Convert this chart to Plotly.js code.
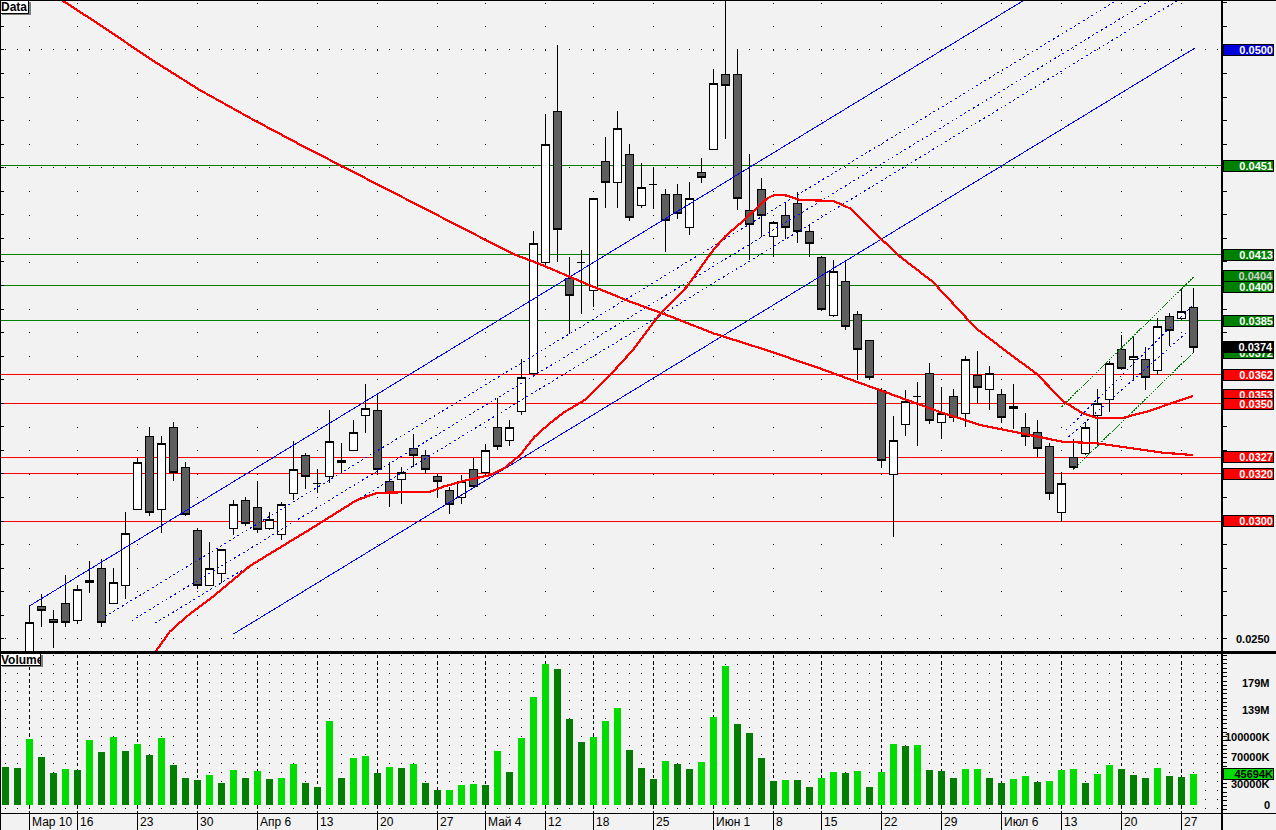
<!DOCTYPE html>
<html>
<head>
<meta charset="utf-8">
<script src="https://cdn.plot.ly/plotly-3.0.1.min.js"></script>
<style>
html,body{margin:0;padding:0;background:#f2f2f2;}
#chart{width:1276px;height:830px;}
#chart .main-svg path{shape-rendering:crispEdges;}
</style>
</head>
<body>
<div id="chart"></div>
<script>
// ---------------- DATA ----------------
const dates = [
 '2015-03-05','2015-03-06','2015-03-10','2015-03-11','2015-03-12','2015-03-13',
 '2015-03-16','2015-03-17','2015-03-18','2015-03-19','2015-03-20',
 '2015-03-23','2015-03-24','2015-03-25','2015-03-26','2015-03-27',
 '2015-03-30','2015-03-31','2015-04-01','2015-04-02','2015-04-03',
 '2015-04-06','2015-04-07','2015-04-08','2015-04-09','2015-04-10',
 '2015-04-13','2015-04-14','2015-04-15','2015-04-16','2015-04-17',
 '2015-04-20','2015-04-21','2015-04-22','2015-04-23','2015-04-24',
 '2015-04-27','2015-04-28','2015-04-29','2015-04-30',
 '2015-05-04','2015-05-05','2015-05-06','2015-05-07','2015-05-08',
 '2015-05-12','2015-05-13','2015-05-14','2015-05-15',
 '2015-05-18','2015-05-19','2015-05-20','2015-05-21','2015-05-22',
 '2015-05-25','2015-05-26','2015-05-27','2015-05-28','2015-05-29',
 '2015-06-01','2015-06-02','2015-06-03','2015-06-04','2015-06-05',
 '2015-06-08','2015-06-09','2015-06-10','2015-06-11',
 '2015-06-15','2015-06-16','2015-06-17','2015-06-18','2015-06-19',
 '2015-06-22','2015-06-23','2015-06-24','2015-06-25','2015-06-26',
 '2015-06-29','2015-06-30','2015-07-01','2015-07-02','2015-07-03',
 '2015-07-06','2015-07-07','2015-07-08','2015-07-09','2015-07-10',
 '2015-07-13','2015-07-14','2015-07-15','2015-07-16','2015-07-17',
 '2015-07-20','2015-07-21','2015-07-22','2015-07-23','2015-07-24',
 '2015-07-27','2015-07-28'
];

const open = [
 0.0238,0.0237,0.0240,0.02638,0.02580,0.02652,0.02579,0.02749,0.02800,0.02651,
 0.02727,0.03049,0.03359,0.03049,0.03398,0.03228,0.02960,0.02727,0.02778,0.02969,
 0.03088,0.03058,0.02969,0.02941,0.03118,0.03279,0.03160,0.03190,0.03259,0.03300,
 0.03449,0.03470,0.03169,0.03177,0.03308,0.03279,0.03190,0.03130,0.03101,0.03220,
 0.03207,0.03399,0.03340,0.03463,0.03627,0.04098,0.04740,0.04031,0.04098,0.03980,
 0.04527,0.04438,0.04557,0.04341,0.04430,0.04387,0.04387,0.04247,0.04481,0.04578,
 0.04897,0.04896,0.04318,0.04407,0.04208,0.04297,0.04349,0.04229,0.04118,0.03874,
 0.04016,0.03876,0.03766,0.03556,0.03197,0.03408,0.03527,0.03625,0.03417,0.03530,
 0.03457,0.03619,0.03559,0.03538,0.03487,0.03398,0.03377,0.03317,0.03037,0.03269,
 0.03287,0.03449,0.03517,0.03729,0.03687,0.03687,0.03640,0.03869,0.03861,0.03907
];
const high = [
 0.0241,0.0240,0.02639,0.02689,0.02623,0.02771,0.02729,0.02830,0.02837,0.02802,
 0.03038,0.03266,0.03399,0.03361,0.03420,0.03250,0.02970,0.02910,0.02880,0.03089,
 0.03102,0.03170,0.03037,0.03080,0.03340,0.03287,0.03221,0.03471,0.03331,0.03429,
 0.03582,0.03534,0.03249,0.03228,0.03369,0.03301,0.03198,0.03143,0.03194,0.03269,
 0.03326,0.03522,0.03430,0.03688,0.04231,0.04728,0.05021,0.04121,0.04151,0.04370,
 0.04631,0.04740,0.04600,0.04519,0.04498,0.04409,0.04430,0.04438,0.04540,0.04918,
 0.05250,0.05000,0.04558,0.04458,0.04275,0.04351,0.04398,0.04261,0.04124,0.04108,
 0.04108,0.03890,0.03766,0.03565,0.03448,0.03558,0.03589,0.03669,0.03567,0.03561,
 0.03700,0.03722,0.03657,0.03559,0.03580,0.03457,0.03428,0.03330,0.03208,0.03349,
 0.03420,0.03559,0.03678,0.03790,0.03784,0.03738,0.03861,0.03882,0.03988,0.03988
];
const low = [
 0.0234,0.0233,0.0238,0.02551,0.02461,0.02551,0.02561,0.02693,0.02551,0.02651,
 0.02669,0.03049,0.03022,0.02950,0.03171,0.03020,0.02712,0.02727,0.02735,0.02942,
 0.02980,0.02949,0.02962,0.02920,0.03090,0.03135,0.03120,0.03163,0.03203,0.03300,
 0.03372,0.03194,0.03061,0.03073,0.03230,0.03198,0.03099,0.03031,0.03073,0.03140,
 0.03200,0.03301,0.03320,0.03450,0.03620,0.04080,0.04101,0.03793,0.03880,0.03910,
 0.04330,0.04330,0.04273,0.04330,0.04324,0.04141,0.04281,0.04213,0.04434,0.04574,
 0.04621,0.04322,0.04108,0.04205,0.04123,0.04199,0.04180,0.04123,0.03890,0.03868,
 0.03811,0.03597,0.03600,0.03227,0.02932,0.03360,0.03318,0.03413,0.03348,0.03422,
 0.03400,0.03502,0.03473,0.03415,0.03392,0.03320,0.03270,0.03090,0.02994,0.03220,
 0.03279,0.03320,0.03462,0.03640,0.03593,0.03555,0.03619,0.03742,0.03852,0.03712
];
const close = [
 0.0236,0.0235,0.02570,0.02621,0.02570,0.02570,0.02710,0.02740,0.02570,0.02740,
 0.02948,0.03249,0.03037,0.03329,0.03207,0.03028,0.02727,0.02800,0.02880,0.03071,
 0.02990,0.02962,0.03007,0.03071,0.03220,0.03190,0.03160,0.03338,0.03249,0.03377,
 0.03479,0.03219,0.03118,0.03207,0.03279,0.03220,0.03169,0.03071,0.03169,0.03147,
 0.03300,0.03318,0.03395,0.03610,0.04179,0.04600,0.04239,0.03958,0.04098,0.04370,
 0.04438,0.04668,0.04290,0.04417,0.04430,0.04277,0.04307,0.04370,0.04459,0.04859,
 0.04850,0.04369,0.04259,0.04297,0.04266,0.04246,0.04229,0.04177,0.03897,0.04059,
 0.03824,0.03727,0.03608,0.03255,0.03344,0.03507,0.03527,0.03426,0.03455,0.03440,
 0.03687,0.03568,0.03627,0.03440,0.03479,0.03360,0.03309,0.03118,0.03160,0.03228,
 0.03398,0.03498,0.03670,0.03648,0.03700,0.03610,0.03827,0.03810,0.03890,0.03738
];
// volume, millions
const volumeM = [
 55.6,54.1,96.5,70.2,46.8,52.6,51.2,95.0,77.5,99.4,
 78.9,89.2,73.1,97.9,58.5,39.5,36.5,43.9,32.2,51.2,
 39.5,49.7,38.0,39.5,59.9,32.2,26.3,122.8,39.5,68.7,
 71.6,46.8,55.6,54.1,59.9,32.2,21.9,22.3,29.2,30.7,
 29.2,78.9,48.2,97.9,157.9,206.1,198.8,125.7,92.1,99.4,
 122.8,141.8,80.4,54.1,38.0,64.3,59.9,52.6,62.9,128.7,
 203.2,118.4,105.3,68.7,35.1,37.0,36.5,26.3,39.5,48.2,
 46.8,49.7,26.3,48.2,89.2,86.3,87.7,51.2,49.7,39.5,
 52.6,52.9,39.5,32.2,38.0,42.4,33.6,35.1,51.2,52.6,
 32.2,45.3,58.5,52.6,43.9,39.5,54.1,42.4,40.9,45.694
];

// moving averages (bar position, price)
const maLongX = [2.1,4.7,7.9,12.2,16.2,20.4,24.6,28.7,32.9,36.2,39.6,42.3,44.4,48.7,52.1,55.1,59.0,63.4,67.6,70.4,72.9,75.1,77.9,81.2,84.6,88.1,91.0,93.7,96.5,99.0];
const maLongY = [0.05318,0.05212,0.05106,0.04958,0.0483,0.04711,0.04597,0.0449,0.0438,0.04291,0.04203,0.04134,0.04094,0.04001,0.03931,0.03875,0.03797,0.03726,0.03653,0.03602,0.03557,0.03514,0.03463,0.03408,0.03372,0.03337,0.03330,0.03309,0.03290,0.03280];
const maShortX = [11.5,12.5,13.7,15.1,17.3,20.4,25.3,27.6,29.3,31.0,35.4,36.5,38.5,40.4,41.6,42.9,44.1,45.4,46.6,48.3,50.4,52.3,54.6,56.8,59.0,60.0,61.5,63.5,64.1,65.1,66.2,69.0,70.4,72.9,74.6,77.3,80.9,84.0,85.9,88.2,89.8,90.9,93.2,95.1,97.1,99.0];
const maShortY = [0.0240,0.02444,0.02530,0.02594,0.02679,0.02810,0.02962,0.03033,0.03089,0.03120,0.03124,0.03146,0.03174,0.03195,0.03225,0.0328,0.03357,0.03416,0.03463,0.03514,0.03620,0.03726,0.03882,0.03995,0.04151,0.04209,0.04275,0.04370,0.04385,0.04382,0.04363,0.04359,0.04327,0.04202,0.04121,0.04015,0.03818,0.03698,0.03627,0.03507,0.03457,0.03439,0.03439,0.03464,0.03500,0.03531];

// trend channels: [x0, x1], [y0, y1]
const blueUpper = {x:[2, 101], y:[0.02639, 0.05711]};
const blueLower = {x:[19, 99.1], y:[0.02520, 0.05007]};
const blueMid = [
  {x:[8.3, 101], y:[0.02594, 0.05470]},
  {x:[10.53, 101], y:[0.02577, 0.05384]},
  {x:[12.47, 101], y:[0.02566, 0.05313]}
];
const greenUpper = {x:[88.03, 99], y:[0.03485, 0.04035]};
const greenLower = {x:[89, 99], y:[0.03219, 0.03715]};
const greenMid = [
  {x:[88.4, 98.9], y:[0.03386, 0.03913]},
  {x:[88.6, 98.5], y:[0.03357, 0.03803]}
];

// horizontal levels
const levelsGreen = [0.0451, 0.0413, 0.0400, 0.0385];
const levelsRed = [0.0362, 0.0350, 0.0327, 0.0320, 0.0300];

// dotted price grid rows (the others lie under level lines)
const gridRows = [0.025, 0.045, 0.050];

// week tick labels
const weekDates = ['2015-03-10','2015-03-16','2015-03-23','2015-03-30','2015-04-06','2015-04-13','2015-04-20','2015-04-27','2015-05-04','2015-05-12','2015-05-18','2015-05-25','2015-06-01','2015-06-08','2015-06-15','2015-06-22','2015-06-29','2015-07-06','2015-07-13','2015-07-20','2015-07-27'];
const weekText = ['Мар 10','16','23','30','Апр 6','13','20','27','Май 4','12','18','25','Июн 1','8','15','22','29','Июл 6','13','20','27'];

// right-axis value labels
const volTickVals = [179e6, 139e6, 100e6, 70e6, 30e6, 0];
const volTickText = ['179M','139M','100000K','70000K','30000K','0'];
const lastVolumeText = '45694K';

// ---------------- BUILD ----------------
const idx = dates.map((d, i) => i);
const weekIdx = weekDates.map(d => dates.indexOf(d));
const volume = volumeM.map(v => v * 1e6);
const volColors = volume.map((v, i) => (i > 0 && v > volume[i - 1]) ? '#00dc00' : '#007f00');

const PLOT_W = 1222, PLOT_H = 813;
const py = px => (PLOT_H - px) / PLOT_H;   // paper y from pixel row
const pxX = px => px / PLOT_W;
const priceRange = [0.02444, 0.05212];
const volRange = [-11.7e6, 219.3e6];
const xRange = [-0.44, 101.39];

const traces = [];
// level lines (bottom layer, above grid)
function level(v, color) {
  return {type: 'scatter', mode: 'lines', x: [xRange[0], xRange[1]], y: [v, v], xaxis: 'x', yaxis: 'y',
    line: {color: color, width: 1}, hoverinfo: 'skip', showlegend: false};
}
levelsGreen.forEach(v => traces.push(level(v, '#008000')));
levelsRed.forEach(v => traces.push(level(v, '#ff0000')));
// candles (middle layer)
traces.push({
  type: 'candlestick', x: idx, open: open, high: high, low: low, close: close,
  xaxis: 'x', yaxis: 'y3',
  increasing: {line: {color: '#000000', width: 1}, fillcolor: '#ffffff'},
  decreasing: {line: {color: '#000000', width: 1}, fillcolor: '#5e5e5e'},
  whiskerwidth: 0, hoverinfo: 'skip', showlegend: false
});
// studies (top layer)
function line(o, color, dash, width) {
  return {type: 'scatter', mode: 'lines', x: o.x, y: o.y, xaxis: 'x', yaxis: 'y4',
    line: {color: color, width: width || 1, dash: dash || 'solid'}, hoverinfo: 'skip', showlegend: false};
}
traces.push(line(blueUpper, '#0000ff'));
traces.push(line(blueLower, '#0000ff'));
blueMid.forEach(m => traces.push(line(m, '#0000ff', '2px,3px')));
traces.push(line(greenUpper, '#008000', '2px,1px'));
traces.push(line(greenLower, '#008000', '2px,1px'));
greenMid.forEach(m => traces.push(line(m, '#0000ff', '2px,3px')));
traces.push(line({x: maLongX, y: maLongY}, '#ff0000', 'solid', 2.2));
traces.push(line({x: maShortX, y: maShortY}, '#ff0000', 'solid', 2.2));
// volume
traces.push({
  type: 'bar', x: idx, y: volume, xaxis: 'x2', yaxis: 'y2', width: 0.54,
  marker: {color: volColors, line: {width: 0}}, hoverinfo: 'skip', showlegend: false
});

const shapes = [];
// small level stubs on the price scale
levelsGreen.forEach(v => shapes.push({type: 'line', xref: 'paper', yref: 'y', x0: 1, x1: 1 + 4 / PLOT_W, y0: v, y1: v, line: {color: '#008000', width: 1}}));
levelsRed.forEach(v => shapes.push({type: 'line', xref: 'paper', yref: 'y', x0: 1, x1: 1 + 4 / PLOT_W, y0: v, y1: v, line: {color: '#ff0000', width: 1}}));
// frames
shapes.push({type: 'line', xref: 'paper', yref: 'paper', x0: 0, x1: 1276 / PLOT_W, y0: 1, y1: 1, line: {color: '#000', width: 2}});
shapes.push({type: 'line', xref: 'paper', yref: 'paper', x0: 0, x1: 1276 / PLOT_W, y0: py(652), y1: py(652), line: {color: '#000', width: 3}});
shapes.push({type: 'line', xref: 'paper', yref: 'paper', x0: 0, x1: 1276 / PLOT_W, y0: py(813.5), y1: py(813.5), line: {color: '#000', width: 1}});
shapes.push({type: 'line', xref: 'paper', yref: 'paper', x0: pxX(0.5), x1: pxX(0.5), y0: py(830), y1: 1, line: {color: '#000', width: 1}});
shapes.push({type: 'line', xref: 'paper', yref: 'paper', x0: 1, x1: 1, y0: py(830), y1: 1, line: {color: '#000', width: 1.5}});
// date separators
weekIdx.forEach(i => shapes.push({type: 'line', xref: 'x', yref: 'paper', x0: i, x1: i, y0: py(813), y1: py(830), line: {color: '#000', width: 1}}));
// label box shadows
shapes.push({type: 'rect', xref: 'paper', yref: 'paper', x0: pxX(2), x1: pxX(31), y0: py(15), y1: py(2), fillcolor: '#808080', line: {width: 0}});
shapes.push({type: 'rect', xref: 'paper', yref: 'paper', x0: pxX(2), x1: pxX(43), y0: py(667), y1: py(655), fillcolor: '#808080', line: {width: 0}});

const annotations = [];
const FONT = 'Liberation Sans, Arial, sans-serif';
weekIdx.forEach((i, k) => annotations.push({
  xref: 'x', yref: 'paper', x: i, y: py(822), xanchor: 'left', yanchor: 'middle', xshift: 1,
  text: weekText[k], showarrow: false, font: {family: FONT, size: 12, color: '#000'}
}));
function box(v, text, bg, fg, yref, yshift) {
  annotations.push({
    xref: 'paper', yref: yref || 'y', x: 1 + 1 / PLOT_W, y: v, xanchor: 'left', yanchor: 'middle', yshift: yshift || 0,
    text: '<b>' + text + '</b>', showarrow: false, width: 49, height: 10, align: 'right',
    bgcolor: bg, bordercolor: '#000', borderwidth: 1, borderpad: 0,
    font: {family: FONT, size: 11, color: fg}
  });
}
box(0.03715, '0.0372', '#008000', '#ffffff');
box(0.0374, '0.0374', '#000000', '#ffffff');
box(0.0353, '0.0353', '#ff0000', '#ffffff', 'y', 1);
box(0.0350, '0.0350', '#ff0000', '#ffffff', 'y', -1);
box(0.0404, '0.0404', '#008000', '#d0d0d0', 'y', 0);
box(0.0400, '0.0400', '#008000', '#ffffff', 'y', -1.5);
box(0.0413, '0.0413', '#008000', '#ffffff');
box(0.0385, '0.0385', '#008000', '#ffffff');
box(0.0451, '0.0451', '#008000', '#ffffff', 'y', -1);
box(0.0500, '0.0500', '#0000dd', '#ffffff');
box(0.0362, '0.0362', '#ff0000', '#ffffff');
box(0.0327, '0.0327', '#ff0000', '#ffffff');
box(0.0320, '0.0320', '#ff0000', '#ffffff');
box(0.0300, '0.0300', '#ff0000', '#ffffff');
annotations.push({xref: 'paper', yref: 'y', x: 1272 / PLOT_W, y: 0.0250, xanchor: 'right', yanchor: 'middle',
  text: '<b>0.0250</b>', showarrow: false, font: {family: FONT, size: 11, color: '#000'}});
volTickVals.forEach((v, k) => annotations.push({xref: 'paper', yref: 'y2', x: 1272 / PLOT_W, y: v, xanchor: 'right', yanchor: 'middle',
  text: '<b>' + volTickText[k] + '</b>', showarrow: false, font: {family: FONT, size: 11, color: '#000'}}));
box(volume[volume.length - 1], lastVolumeText, '#00dc00', '#000000', 'y2');
// panel captions
annotations.push({xref: 'paper', yref: 'paper', x: 0, y: 1, xanchor: 'left', yanchor: 'top', text: '<b>Data</b>', showarrow: false,
  bgcolor: '#ffffff', bordercolor: '#000', borderwidth: 1, borderpad: 0, width: 27, height: 12, align: 'left',
  font: {family: FONT, size: 12, color: '#000'}});
annotations.push({xref: 'paper', yref: 'paper', x: 0, y: py(653), xanchor: 'left', yanchor: 'top', text: '<b>Volume</b>', showarrow: false,
  bgcolor: '#ffffff', bordercolor: '#000', borderwidth: 1, borderpad: 0, width: 39, height: 11, align: 'left',
  font: {family: FONT, size: 12, color: '#000'}});
annotations.push({xref: 'paper', yref: 'paper', x: pxX(186), y: py(-4), xanchor: 'center', yanchor: 'middle', text: '0.052', showarrow: false,
  font: {family: FONT, size: 11, color: '#0000ff'}});

const layout = {
  width: 1276, height: 830,
  paper_bgcolor: '#f2f2f2', plot_bgcolor: '#f2f2f2',
  margin: {l: 0, r: 54, t: 0, b: 17, pad: 0},
  showlegend: false, dragmode: false, hovermode: false,
  boxgap: 0.33, boxgroupgap: 0,
  xaxis: {range: xRange, anchor: 'y', tickmode: 'array', tickvals: weekIdx, showticklabels: false, ticks: '',
    showgrid: true, gridcolor: '#000000', gridwidth: 1, griddash: '0px,2.6px,1px,19.95px',
    zeroline: false, showline: false, rangeslider: {visible: false}, fixedrange: true},
  xaxis2: {range: xRange, anchor: 'y2', tickmode: 'array', tickvals: weekIdx, showticklabels: false, ticks: '',
    showgrid: true, gridcolor: '#000000', gridwidth: 1, griddash: '3px,3px',
    minor: {dtick: 1, tick0: 0, showgrid: true, gridcolor: '#000000', gridwidth: 1, griddash: '1px,8px', ticks: ''},
    zeroline: false, showline: false, fixedrange: true},
  yaxis: {domain: [py(652), 1], range: priceRange, anchor: 'x', side: 'right', tickmode: 'array', tickvals: gridRows,
    ticks: 'outside', ticklen: 4, tickcolor: '#000', showticklabels: false,
    showgrid: true, gridcolor: '#000000', gridwidth: 1, griddash: '0px,5px,1px,6px',
    minor: {tickmode: 'linear', dtick: 0.001, tick0: 0, ticks: 'outside', ticklen: 4, tickcolor: '#000', showgrid: false},
    zeroline: false, showline: false, fixedrange: true},
  yaxis3: {overlaying: 'y', range: priceRange, anchor: 'x', side: 'left', tickmode: 'linear', tick0: 0, dtick: 0.001,
    ticks: 'inside', ticklen: 4, tickcolor: '#000', showticklabels: false, showgrid: false, zeroline: false, showline: false, fixedrange: true},
  yaxis4: {overlaying: 'y', range: priceRange, anchor: 'x', side: 'right', visible: false, showgrid: false, zeroline: false, fixedrange: true},
  yaxis2: {domain: [0, py(655)], range: volRange, anchor: 'x2', side: 'right', tickmode: 'linear', tick0: 0, dtick: 6.25e6,
    ticks: 'outside', ticklen: 4, tickcolor: '#000', showticklabels: false, showgrid: false, zeroline: false, showline: false, fixedrange: true},
  yaxis5: {overlaying: 'y2', range: volRange, anchor: 'x2', side: 'left', tickmode: 'linear', tick0: 0, dtick: 12.5e6,
    ticks: 'inside', ticklen: 4, tickcolor: '#000', showticklabels: false, showgrid: false, zeroline: false, showline: false, fixedrange: true},
  shapes: shapes,
  annotations: annotations
};

Plotly.newPlot('chart', traces, layout, {displayModeBar: false, staticPlot: true});
</script>
</body>
</html>
